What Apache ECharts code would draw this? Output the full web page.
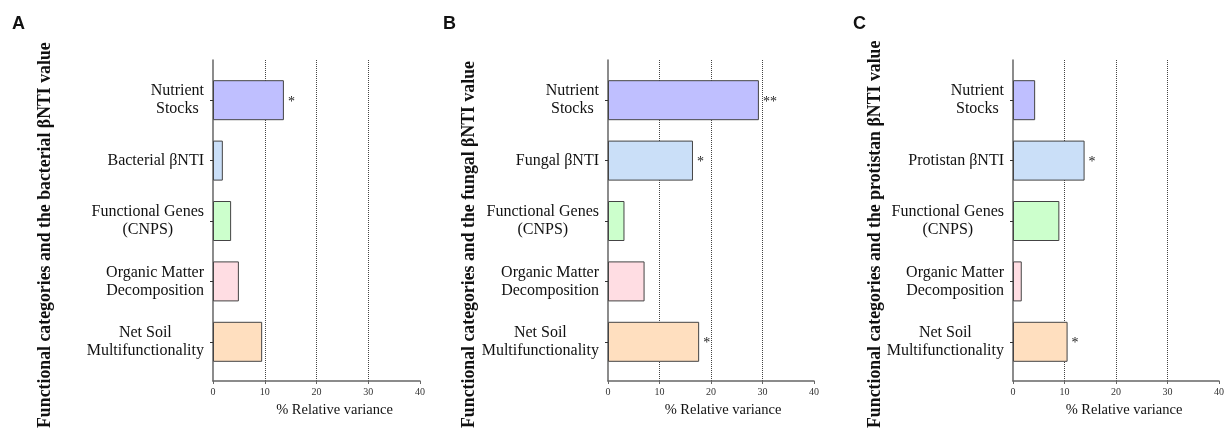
<!DOCTYPE html>
<html>
<head>
<meta charset="utf-8">
<script src="https://cdn.jsdelivr.net/npm/echarts@6/dist/echarts.min.js"></script>
<style>
  html, body { margin: 0; padding: 0; background: #fff; }
  #chart { width: 1227px; height: 430px; }
</style>
</head>
<body>
<div id="chart"></div>
<script>
// shared x axis ticks (% relative variance)
const xTicks = [0, 10, 20, 30, 40];

// fill colour for each category row (top to bottom)
const barColors = ['#bfbfff', '#cadff8', '#ccffcc', '#ffdde3', '#ffdfbf'];

const categoriesA = ['Nutrient\nStocks', 'Bacterial βNTI', 'Functional Genes\n(CNPS)', 'Organic Matter\nDecomposition', 'Net Soil\nMultifunctionality'];
const valuesA = [13.7, 1.9, 3.5, 5.0, 9.5];
const starsA = ['*', '', '', '', ''];

const categoriesB = ['Nutrient\nStocks', 'Fungal βNTI', 'Functional Genes\n(CNPS)', 'Organic Matter\nDecomposition', 'Net Soil\nMultifunctionality'];
const valuesB = [29.3, 16.5, 3.2, 7.1, 17.7];
const starsB = ['**', '*', '', '', '*'];

const categoriesC = ['Nutrient\nStocks', 'Protistan βNTI', 'Functional Genes\n(CNPS)', 'Organic Matter\nDecomposition', 'Net Soil\nMultifunctionality'];
const valuesC = [4.3, 13.9, 9.0, 1.7, 10.6];
const starsC = ['', '*', '', '', '*'];

const panels = [
    { letter: 'A', title: 'Functional categories and the bacterial βNTI value', cats: categoriesA, vals: valuesA, stars: starsA, left: 213, right: 807, letterX: 12, titleX: 45, nameShift: 36 },
    { letter: 'B', title: 'Functional categories and the fungal βNTI value', cats: categoriesB, vals: valuesB, stars: starsB, left: 608, right: 413, letterX: 443, titleX: 469, nameShift: 24 },
    { letter: 'C', title: 'Functional categories and the protistan βNTI value', cats: categoriesC, vals: valuesC, stars: starsC, left: 1013, right: 8, letterX: 853, titleX: 875, nameShift: 16 }
];

const serif = '"Liberation Serif", "Times New Roman", serif';
const chart = echarts.init(document.getElementById('chart'));

let grids = [], xAxes = [], yAxes = [], series = [], graphics = [];

panels.forEach((p, i) => {
    const frame = i * 2, inner = i * 2 + 1;
    // outer frame: axis lines + dotted guides
    grids.push({ left: p.left, right: p.right, top: 60, bottom: 49 });
    // inner grid holding the bars
    grids.push({ left: p.left, right: p.right, top: 70, bottom: 58 });

    xAxes.push({
        type: 'value', gridIndex: frame,
        min: xTicks[0], max: xTicks[xTicks.length - 1], interval: xTicks[1] - xTicks[0],
        axisLine: { show: true, lineStyle: { color: '#666', width: 1.5 } },
        axisTick: { show: true, length: 3, lineStyle: { color: '#666' } },
        axisLabel: { fontFamily: serif, fontSize: 10, color: '#333', margin: 6 },
        splitLine: { show: true, showMinLine: false, showMaxLine: false, lineStyle: { type: 'dotted', color: '#444', width: 1 } },
        name: '% Relative variance', nameLocation: 'middle', nameGap: 22,
        nameTextStyle: { fontFamily: serif, fontSize: 14.5, color: '#111', padding: [0, 0, 0, p.nameShift] }
    });
    xAxes.push({
        type: 'value', gridIndex: inner, show: false,
        min: xTicks[0], max: xTicks[xTicks.length - 1]
    });

    yAxes.push({
        type: 'value', gridIndex: frame, min: 0, max: 1,
        axisLine: { show: true, lineStyle: { color: '#666', width: 1.5 } },
        axisTick: { show: false }, axisLabel: { show: false }, splitLine: { show: false }
    });
    yAxes.push({
        type: 'category', gridIndex: inner, inverse: true, data: p.cats,
        axisLine: { show: false },
        axisTick: { show: true, alignWithLabel: true, length: 3, lineStyle: { color: '#333' } },
        axisLabel: {
            margin: 9,
            formatter: v => v.split('\n').map(s => '{c|' + s + '}').join('\n'),
            rich: { c: { align: 'center', fontFamily: serif, fontSize: 16, lineHeight: 18, color: '#111' } }
        }
    });

    series.push({
        type: 'bar', xAxisIndex: inner, yAxisIndex: inner, barWidth: 40,
        data: p.vals.map((v, k) => ({ value: v, itemStyle: { color: barColors[k] } })),
        itemStyle: { borderColor: '#444', borderWidth: 1 },
        label: {
            show: true, position: 'right', distance: 4, offset: [0, 2],
            fontFamily: serif, fontSize: 14, color: '#222',
            formatter: d => p.stars[d.dataIndex]
        },
        silent: true
    });

    graphics.push({
        type: 'text', x: p.letterX, y: 24,
        style: { text: p.letter, font: 'bold 18px "Liberation Sans", Arial, sans-serif', fill: '#111', textAlign: 'left', textVerticalAlign: 'middle' }
    });
    graphics.push({
        type: 'text', x: p.titleX, y: 428, rotation: Math.PI / 2,
        style: { text: p.title, font: 'bold 17.8px ' + serif, fill: '#111', textAlign: 'left', textVerticalAlign: 'middle' }
    });
});

chart.setOption({
    animation: false,
    grid: grids,
    xAxis: xAxes,
    yAxis: yAxes,
    series: series,
    graphic: graphics
});

window.addEventListener('resize', function () {
    chart.resize();
});
</script>
</body>
</html>
